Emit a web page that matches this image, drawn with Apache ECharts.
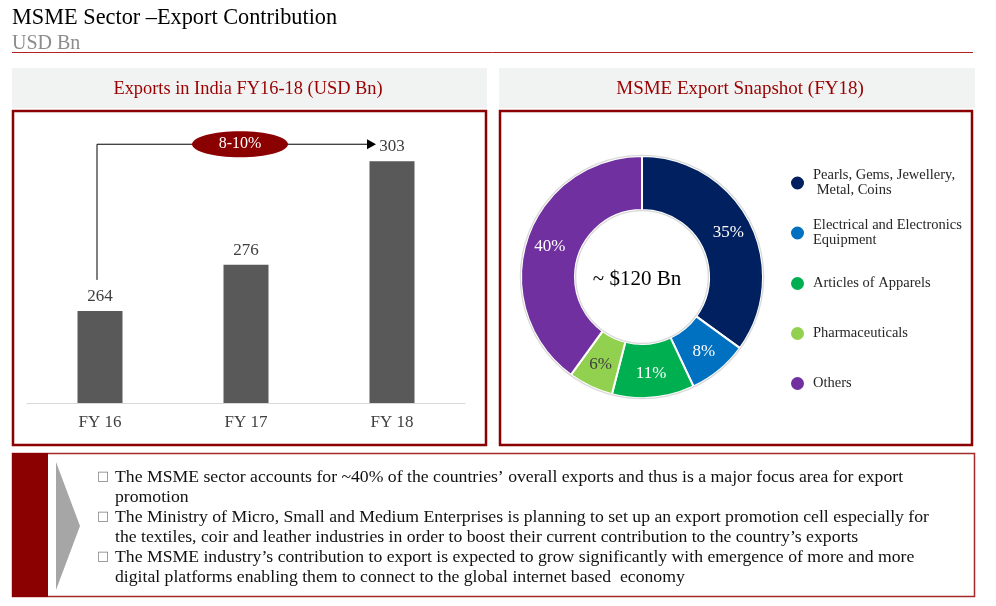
<!DOCTYPE html>
<html>
<head>
<meta charset="utf-8">
<script src="https://cdn.jsdelivr.net/npm/echarts@6/dist/echarts.min.js"></script>
<style>html,body{margin:0;padding:0;background:#fff}#c{width:996px;height:606px}</style>
</head>
<body>
<div id="c"></div>
<script>
const years = ['FY 16', 'FY 17', 'FY 18'];
const exportsUsdBn = [264, 276, 303];
const growthLabel = '8-10%';
const segments = ['Pearls, Gems, Jewellery,\n Metal, Coins', 'Electrical and Electronics\nEquipment', 'Articles of Apparels', 'Pharmaceuticals', 'Others'];
const shares = [35, 8, 11, 6, 40];
const segColors = ['#002060', '#0070C0', '#00B050', '#92D050', '#7030A0'];
const totalLabel = '~ $120 Bn';
const bullets = [
  ['The MSME sector accounts for ~40% of the countries\u2019 overall exports and thus is a major focus area for export', 'promotion'],
  ['The Ministry of Micro, Small and Medium Enterprises is planning to set up an export promotion cell especially for', 'the textiles, coir and leather industries in order to boost their current contribution to the country\u2019s exports'],
  ['The MSME industry\u2019s contribution to export is expected to grow significantly with emergence of more and more', 'digital platforms enabling them to connect to the global internet based  economy']
];

const FF = '"Liberation Serif", "Times New Roman", serif';
const DARKRED = '#8B0000';
const chart = echarts.init(document.getElementById('c'));

const legendTops = [163, 213, 270, 320, 370];
const legends = segments.map((s, i) => ({
  data: [s], orient: 'vertical', left: 784, top: legendTops[i], icon: 'circle',
  itemWidth: 15, itemHeight: 15, selectedMode: false,
  textStyle: { fontFamily: FF, fontSize: 14.5, lineHeight: 15, color: '#262626', padding: [0, 0, 0, 3] }
}));

const ringStyle = { color: '#d9d9d9' };
chart.setOption({
  animation: false,
  title: [
    { text: 'MSME Sector \u2013Export Contribution', left: 7, top: 2, textStyle: { fontFamily: FF, fontSize: 22.3, fontWeight: 'normal', color: '#000' } },
    { text: 'USD Bn', left: 7, top: 29, textStyle: { fontFamily: FF, fontSize: 20, fontWeight: 'normal', color: '#8c8c8c' } }
  ],
  legend: legends,
  grid: { left: 27, right: 531, top: 96, bottom: 203 },
  xAxis: {
    type: 'category', data: years,
    axisLine: { lineStyle: { color: '#D9D9D9', width: 1 } },
    axisTick: { show: false },
    axisLabel: { fontFamily: FF, fontSize: 17, color: '#404040', margin: 11 }
  },
  yAxis: { type: 'value', min: 240, max: 320, show: false, splitLine: { show: false } },
  series: [
    {
      type: 'bar', data: exportsUsdBn, barWidth: 45,
      itemStyle: { color: '#595959' },
      label: { show: true, position: 'top', distance: 6, fontFamily: FF, fontSize: 17, color: '#404040' }
    },
    {
      type: 'pie', center: [642, 277], radius: [67, 121], startAngle: 90, clockwise: true,
      silent: true,
      itemStyle: { borderColor: '#fff', borderWidth: 2 },
      label: { show: true, position: 'inside', formatter: '{c}%', fontFamily: FF, fontSize: 17, color: '#fff' },
      labelLine: { show: false },
      data: segments.map((s, i) => ({
        name: s, value: shares[i], itemStyle: { color: segColors[i] },
        label: i === 3 ? { color: '#404040' } : undefined
      }))
    },
    {
      type: 'pie', center: [642, 277], radius: [121, 122.3], silent: true, z: 3,
      label: { show: false }, labelLine: { show: false },
      data: [{ name: 'outer-ring', value: 1, itemStyle: ringStyle }]
    },
    {
      type: 'pie', center: [642, 277], radius: [65.7, 67], silent: true, z: 3,
      label: { show: false }, labelLine: { show: false },
      data: [{ name: 'inner-ring', value: 1, itemStyle: ringStyle }]
    }
  ]
});

const p16 = chart.convertToPixel({ seriesIndex: 0 }, [0, exportsUsdBn[0]]);
const p17 = chart.convertToPixel({ seriesIndex: 0 }, [1, exportsUsdBn[1]]);
const p18 = chart.convertToPixel({ seriesIndex: 0 }, [2, exportsUsdBn[2]]);
const ax = p16[0] - 3, ay0 = p16[1] - 31, ay = p18[1] - 17, axEnd = p18[0] - 16;
const ex = p17[0] - 6;

const g = [
  { type: 'line', shape: { x1: 12, y1: 52.5, x2: 973, y2: 52.5 }, style: { stroke: '#B22222', lineWidth: 1 } },
  { type: 'rect', shape: { x: 12, y: 68, width: 475, height: 40 }, style: { fill: '#F1F2F2' } },
  { type: 'rect', shape: { x: 499, y: 68, width: 476, height: 40 }, style: { fill: '#F1F2F2' } },
  { type: 'text', x: 248, y: 89, style: { text: 'Exports in India FY16-18 (USD Bn)', fill: '#990000', font: '18.4px ' + FF, textAlign: 'center', textVerticalAlign: 'middle' } },
  { type: 'text', x: 740, y: 89, style: { text: 'MSME Export Snapshot (FY18)', fill: '#990000', font: '19px ' + FF, textAlign: 'center', textVerticalAlign: 'middle' } },
  { type: 'rect', shape: { x: 13, y: 111, width: 473, height: 334 }, style: { fill: 'none', stroke: DARKRED, lineWidth: 2.5 } },
  { type: 'rect', shape: { x: 500, y: 111, width: 472, height: 334 }, style: { fill: 'none', stroke: DARKRED, lineWidth: 2.5 } },
  // annotation arrow
  { type: 'polyline', shape: { points: [[ax, ay0], [ax, ay], [axEnd - 8, ay]] }, style: { stroke: '#000', lineWidth: 1, fill: 'none' } },
  { type: 'polygon', shape: { points: [[axEnd - 9, ay - 5], [axEnd, ay], [axEnd - 9, ay + 5]] }, style: { fill: '#000' } },
  { type: 'ellipse', shape: { cx: ex, cy: ay, rx: 48, ry: 13 }, style: { fill: DARKRED } },
  { type: 'text', x: ex, y: ay, style: { text: growthLabel, fill: '#fff', font: '16px ' + FF, textAlign: 'center', textVerticalAlign: 'middle' } },
  // donut centre
  { type: 'text', x: 637, y: 279, style: { text: totalLabel, fill: '#000', font: '21px ' + FF, textAlign: 'center', textVerticalAlign: 'middle' } },
  // bottom box
  { type: 'rect', shape: { x: 12.5, y: 453.5, width: 962, height: 143 }, style: { fill: 'none', stroke: '#A52A2A', lineWidth: 1.5 } },
  { type: 'rect', shape: { x: 12, y: 453, width: 36, height: 144 }, style: { fill: DARKRED } },
  { type: 'polygon', shape: { points: [[56, 462], [80, 526], [56, 590]] }, style: { fill: '#A6A6A6' } }
];
let ly = 477;
bullets.forEach(b => {
  g.push({ type: 'text', x: 97, y: ly, style: { text: '\u25A1', fill: '#7f7f7f', font: '13px "DejaVu Sans"', textVerticalAlign: 'middle' } });
  b.forEach(line => {
    g.push({ type: 'text', x: 115, y: ly, style: { text: line, fill: '#111', font: '17.7px ' + FF, textVerticalAlign: 'middle' } });
    ly += 20;
  });
});
chart.setOption({ graphic: g });
</script>
</body>
</html>
